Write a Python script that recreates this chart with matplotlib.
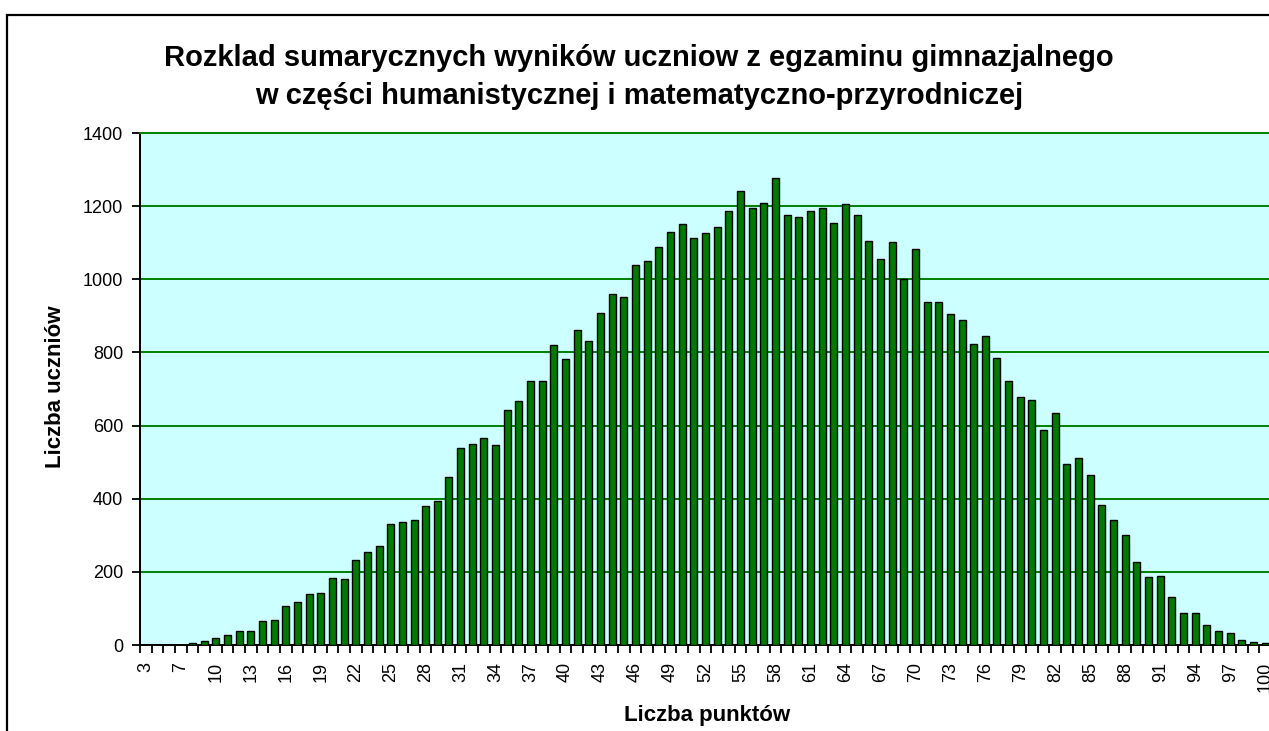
import matplotlib
matplotlib.use('Agg')
import matplotlib.pyplot as plt
import matplotlib.patches as patches
import numpy as np

plt.rcParams['font.family'] = ['Liberation Sans', 'DejaVu Sans']

# score categories (score 4 never occurred, so it is missing from the sheet)
punkty = [3, 5, 6] + list(range(7, 101))

# number of students for each score
uczniowie = [0, 0, 0, 0,
             5, 12, 20, 28, 38, 38, 66, 69, 106, 118,          # 8 - 17
             139, 143, 184, 180, 233, 254, 271, 332, 337, 341,  # 18 - 27
             381, 394, 460, 538, 550, 567, 547, 643, 668, 721,  # 28 - 37
             721, 820, 783, 861, 832, 907, 960, 952, 1039, 1051,  # 38 - 47
             1088, 1130, 1150, 1114, 1126, 1142, 1188, 1241, 1195, 1208,  # 48 - 57
             1278, 1175, 1171, 1187, 1195, 1155, 1205, 1175, 1106, 1055,  # 58 - 67
             1101, 1002, 1084, 938, 938, 905, 889, 824, 844, 786,  # 68 - 77
             722, 677, 669, 588, 634, 494, 510, 465, 383, 341,  # 78 - 87
             300, 226, 185, 190, 131, 88, 88, 54, 38, 34,  # 88 - 97
             14, 9, 5]  # 98 - 100

y_ticks = [0, 200, 400, 600, 800, 1000, 1200, 1400]

W, H = 1269, 731
fig = plt.figure(figsize=(W / 100, H / 100), dpi=100)

# outer chart frame (the picture is cropped on the right and bottom)
fig.patches.append(patches.Rectangle((7 / W, -0.1), 2, 1 - 15 / H + 0.1,
                                     transform=fig.transFigure, fill=False,
                                     lw=1.6, ec='black'))

ax = fig.add_axes([140 / W, 1 - 645 / H, 1131 / W, 512 / H])
ax.set_facecolor('#CCFFFF')

x = np.arange(len(punkty))
ax.bar(x, uczniowie, width=0.6, color='#007A00', edgecolor='black', linewidth=1.0, zorder=3)

ax.set_xlim(-0.5, len(punkty) - 0.5)
ax.set_ylim(0, 1400)
ax.set_yticks(y_ticks)
ax.yaxis.grid(True, color='#008000', lw=1.4, zorder=1)

ax.set_xticks(x[::3])
ax.set_xticklabels([str(p) for p in punkty[::3]], rotation=90, fontsize=13)
ax.set_xticks(np.arange(len(punkty) + 1) - 0.5, minor=True)
ax.tick_params(axis='x', which='major', length=0, pad=12)
ax.tick_params(axis='x', which='minor', length=6, width=1.3, direction='out')
ax.tick_params(axis='y', length=6, width=1.3, direction='out', labelsize=13, pad=6)

for s in ['left', 'bottom']:
    ax.spines[s].set_linewidth(1.4)
ax.spines['right'].set_visible(False)
ax.spines['top'].set_color('#008000')
ax.spines['top'].set_linewidth(1.4)

fig.text(56 / W, 1 - 387 / H, 'Liczba uczniów', fontsize=16, fontweight='bold',
         rotation=90, ha='center', va='center')

fig.text(707 / W, 1 - 716 / H, 'Liczba punktów', fontsize=16, fontweight='bold',
         ha='center', va='center')

fig.text(639 / W, 1 - 77 / H,
         'Rozklad sumarycznych wyników uczniow z egzaminu gimnazjalnego\n'
         'w części humanistycznej i matematyczno-przyrodniczej',
         fontsize=21, fontweight='bold', ha='center', va='center', linespacing=1.42)

fig.savefig('out.png', dpi=100)
